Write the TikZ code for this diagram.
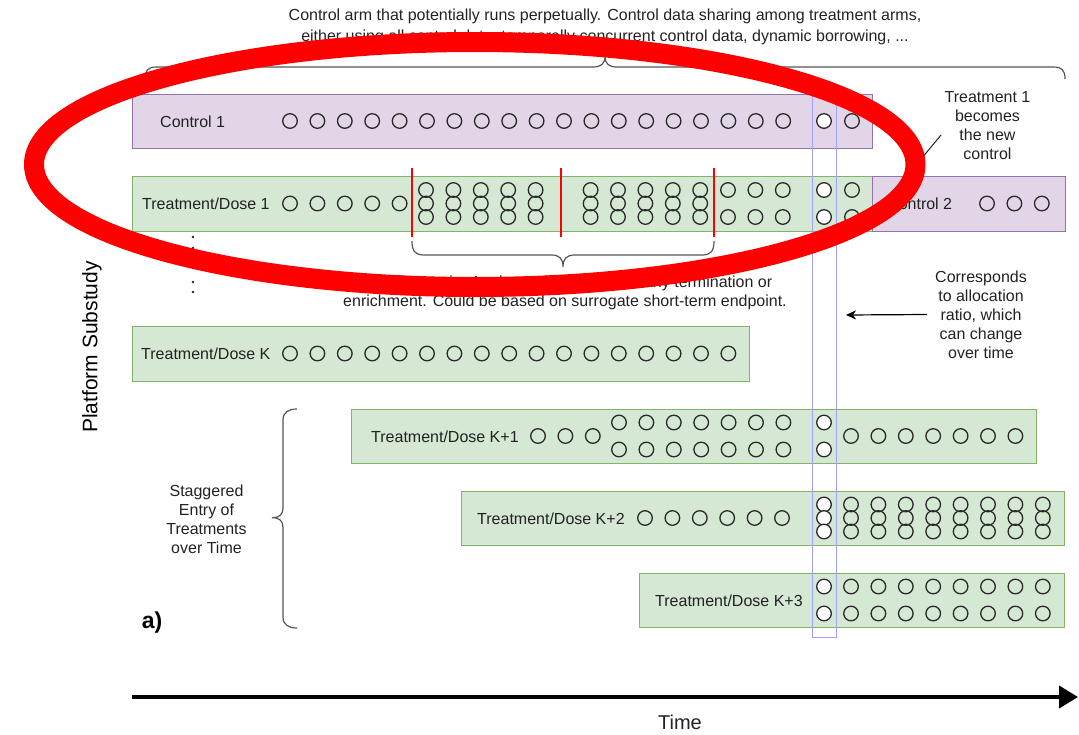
\documentclass[tikz,border=0pt]{standalone}
\usepackage{fontspec}
\setmainfont{Liberation Sans}
\usetikzlibrary{arrows.meta}
\definecolor{ctrlF}{HTML}{E1D5E7}
\definecolor{ctrlB}{HTML}{9673A6}
\definecolor{trtF}{HTML}{D5E8D4}
\definecolor{trtB}{HTML}{82B366}
\definecolor{blueL}{HTML}{A0A0FF}
\definecolor{txt}{HTML}{222222}
\definecolor{brc}{HTML}{555555}
\definecolor{dotc}{HTML}{2A2A2A}
\begin{document}
\begin{tikzpicture}[x=1pt,y=-1pt,
  ctrlbox/.style={draw=ctrlB, fill=ctrlF, line width=1pt, anchor=north west, inner sep=0pt, outer sep=0pt},
  trtbox/.style={draw=trtB, fill=trtF, line width=1pt, anchor=north west, inner sep=0pt, outer sep=0pt},
  lbl/.style={anchor=west, inner sep=0pt, text=txt, font=\fontsize{16}{19}\selectfont},
  note/.style={align=center, inner sep=0pt, text=txt, font=\fontsize{16}{19}\selectfont},
  dot/.style={circle, draw=dotc, line width=1.3pt, minimum size=14.6pt, inner sep=0pt},
  wdot/.style={dot, fill=white},
  brace/.style={draw=brc, line width=1.2pt},
  redline/.style={draw=red, line width=2.6pt},
]
\useasboundingbox (0,0) rectangle (1079,734);

% ---------- boxes ----------
\node[ctrlbox, minimum width=740pt, minimum height=54pt] (ctrl1) at (132,94) {};
\node[trtbox, minimum width=740pt, minimum height=55pt] (trt1) at (132,176) {};
\node[ctrlbox, minimum width=193pt, minimum height=55pt] (ctrl2) at (872,176) {};
\node[trtbox, minimum width=617pt, minimum height=55pt] (trtK) at (132,326) {};
\node[trtbox, minimum width=685pt, minimum height=54pt] (trtK1) at (351,409) {};
\node[trtbox, minimum width=603pt, minimum height=54pt] (trtK2) at (461,491) {};
\node[trtbox, minimum width=425pt, minimum height=54pt] (trtK3) at (639,573) {};

% allocation column
\node[draw=blueL, line width=1pt, anchor=north west, minimum width=24pt, minimum height=549pt, inner sep=0pt] (alloc) at (812,88) {};

% ---------- labels ----------
\node[lbl] (l-ctrl1) at (160,121.5) {Control 1};
\node[lbl] (l-trt1) at (142,204) {Treatment/Dose 1};
\node[lbl] (l-ctrl2) at (887,204) {Control 2};
\node[lbl] (l-trtK) at (141,354) {Treatment/Dose K};
\node[lbl] (l-trtK1) at (371,436.5) {Treatment/Dose K+1};
\node[lbl] (l-trtK2) at (477,518.5) {Treatment/Dose K+2};
\node[lbl] (l-trtK3) at (655,600.5) {Treatment/Dose K+3};

% ---------- circles ----------
% Control 1
\foreach \i in {0,...,18} \node[dot] (c1-\i) at ({290+27.4*\i},121) {};
\node[wdot] (c1-a) at (824,121) {};
\node[dot] (c1-b) at (852,121) {};
% Treatment 1
\foreach \i in {0,...,4} \node[dot] (t1s-\i) at ({290+27.4*\i},203.5) {};
\foreach \i in {0,...,4} \foreach \j in {0,1,2} \node[dot] (t1a-\i-\j) at ({426+27.4*\i},{190+13.5*\j}) {};
\foreach \i in {0,...,4} \foreach \j in {0,1,2} \node[dot] (t1b-\i-\j) at ({590.6+27.4*\i},{190+13.5*\j}) {};
\foreach \i in {0,1,2} \foreach \j in {0,1} \node[dot] (t1c-\i-\j) at ({728+27.4*\i},{190+27*\j}) {};
\foreach \j in {0,1} \node[wdot] (t1w-\j) at (824,{190+27*\j}) {};
\foreach \j in {0,1} \node[dot] (t1d-\j) at (852,{190+27*\j}) {};
% Control 2
\foreach \i in {0,1,2} \node[dot] (c2-\i) at ({987+27.4*\i},203.5) {};
% Treatment K
\foreach \i in {0,...,16} \node[dot] (tK-\i) at ({290+27.4*\i},353.5) {};
% Treatment K+1
\foreach \i in {0,1,2} \node[dot] (tK1s-\i) at ({538+27.4*\i},436) {};
\foreach \i in {0,...,6} \foreach \j in {0,1} \node[dot] (tK1a-\i-\j) at ({619+27.4*\i},{422.5+27*\j}) {};
\foreach \j in {0,1} \node[wdot] (tK1w-\j) at (824,{422.5+27*\j}) {};
\foreach \i in {0,...,6} \node[dot] (tK1b-\i) at ({851+27.4*\i},436) {};
% Treatment K+2
\foreach \i in {0,...,5} \node[dot] (tK2s-\i) at ({645+27.4*\i},518) {};
\foreach \j in {0,1,2} \node[wdot] (tK2w-\j) at (824,{504.5+13.5*\j}) {};
\foreach \i in {0,...,7} \foreach \j in {0,1,2} \node[dot] (tK2a-\i-\j) at ({851+27.4*\i},{504.5+13.5*\j}) {};
% Treatment K+3
\foreach \j in {0,1} \node[wdot] (tK3w-\j) at (824,{586.5+27*\j}) {};
\foreach \i in {0,...,7} \foreach \j in {0,1} \node[dot] (tK3a-\i-\j) at ({851+27.4*\i},{586.5+27*\j}) {};

% ---------- interim analyses ----------
\coordinate (ia1t) at (412,168); \coordinate (ia1b) at (412,237);
\coordinate (ia2t) at (561,168); \coordinate (ia2b) at (561,237);
\coordinate (ia3t) at (714,168); \coordinate (ia3b) at (714,237);
\draw[redline] (ia1t) -- (ia1b);
\draw[redline] (ia2t) -- (ia2b);
\draw[redline] (ia3t) -- (ia3b);

\draw[brace] (412,241) .. controls (412,251) and (415,255) .. (424,255) -- (551,255)
  .. controls (559,255) and (563,258) .. (563,267)
  .. controls (563,258) and (567,255) .. (575,255) -- (702,255)
  .. controls (711,255) and (714,251) .. (714,241);
\node[note] (n-interim) at (565,293) {Flexible Interim Analyses that allow for early termination or\\enrichment. Could be based on surrogate short-term endpoint.};

% ---------- top brace ----------
\draw[brace] (145,79) .. controls (145,70) and (148,67) .. (157,67) -- (593,67)
  .. controls (601,67) and (605,64) .. (605,56)
  .. controls (605,64) and (609,67) .. (617,67) -- (1053,67)
  .. controls (1062,67) and (1065,70) .. (1065,79);
\node[note, font=\fontsize{16}{21}\selectfont] (n-top) at (605,27) {Control arm that potentially runs perpetually. Control data sharing among treatment arms,\\either using all control data, temporally concurrent control data, dynamic borrowing, ...};

% ---------- vertical dots ----------
\foreach \k/\y in {a/237,b/248,c/282,d/292} \fill[txt] (193,\y) circle (1.4pt);

% ---------- side annotations ----------
\node[note] (n-new) at (987.5,126) {Treatment 1\\becomes\\the new\\control};
\coordinate (newend) at (912,170);
\draw[txt, line width=1pt] (941,135) -- (newend);

\node[note] (n-alloc) at (981,314.5) {Corresponds\\to allocation\\ratio, which\\can change\\over time};
\coordinate (allocpt) at (846,315);
\draw[black, line width=1.2pt, -{Stealth[length=10pt,width=9pt,inset=3pt]}] (n-alloc.west) ++(-8,0) -- (allocpt);

\node[note] (n-stag) at (206.5,519) {Staggered\\Entry of\\Treatments\\over Time};
\draw[brace] (297,409) .. controls (289,409) and (283,412) .. (283,420) -- (283,508)
  .. controls (283,514) and (280,517.7) .. (272,517.7)
  .. controls (280,517.7) and (283,521) .. (283,528) -- (283,617)
  .. controls (283,625) and (289,628) .. (297,628);

\node[rotate=90, inner sep=0pt, text=black, font=\fontsize{21}{25}\selectfont] (n-plat) at (92,347) {Platform Substudy};
\node[inner sep=0pt, text=black, font=\fontsize{23}{27}\selectfont\bfseries] (n-a) at (152,623) {a)};

% ---------- time axis ----------
\coordinate (t0) at (132,697);
\coordinate (t1) at (1078,697);
\draw[black, line width=4pt, -{Triangle[length=19pt,width=22pt]}] (t0) -- (t1);
\node[inner sep=0pt, text=txt, font=\fontsize{20}{24}\selectfont] (n-time) at (680,722) {Time};

% ---------- red ellipse overlay ----------
\draw[red, line width=20pt] (474.75,164.5) ellipse [x radius=440.75, y radius=122.5];
\end{tikzpicture}
\end{document}
